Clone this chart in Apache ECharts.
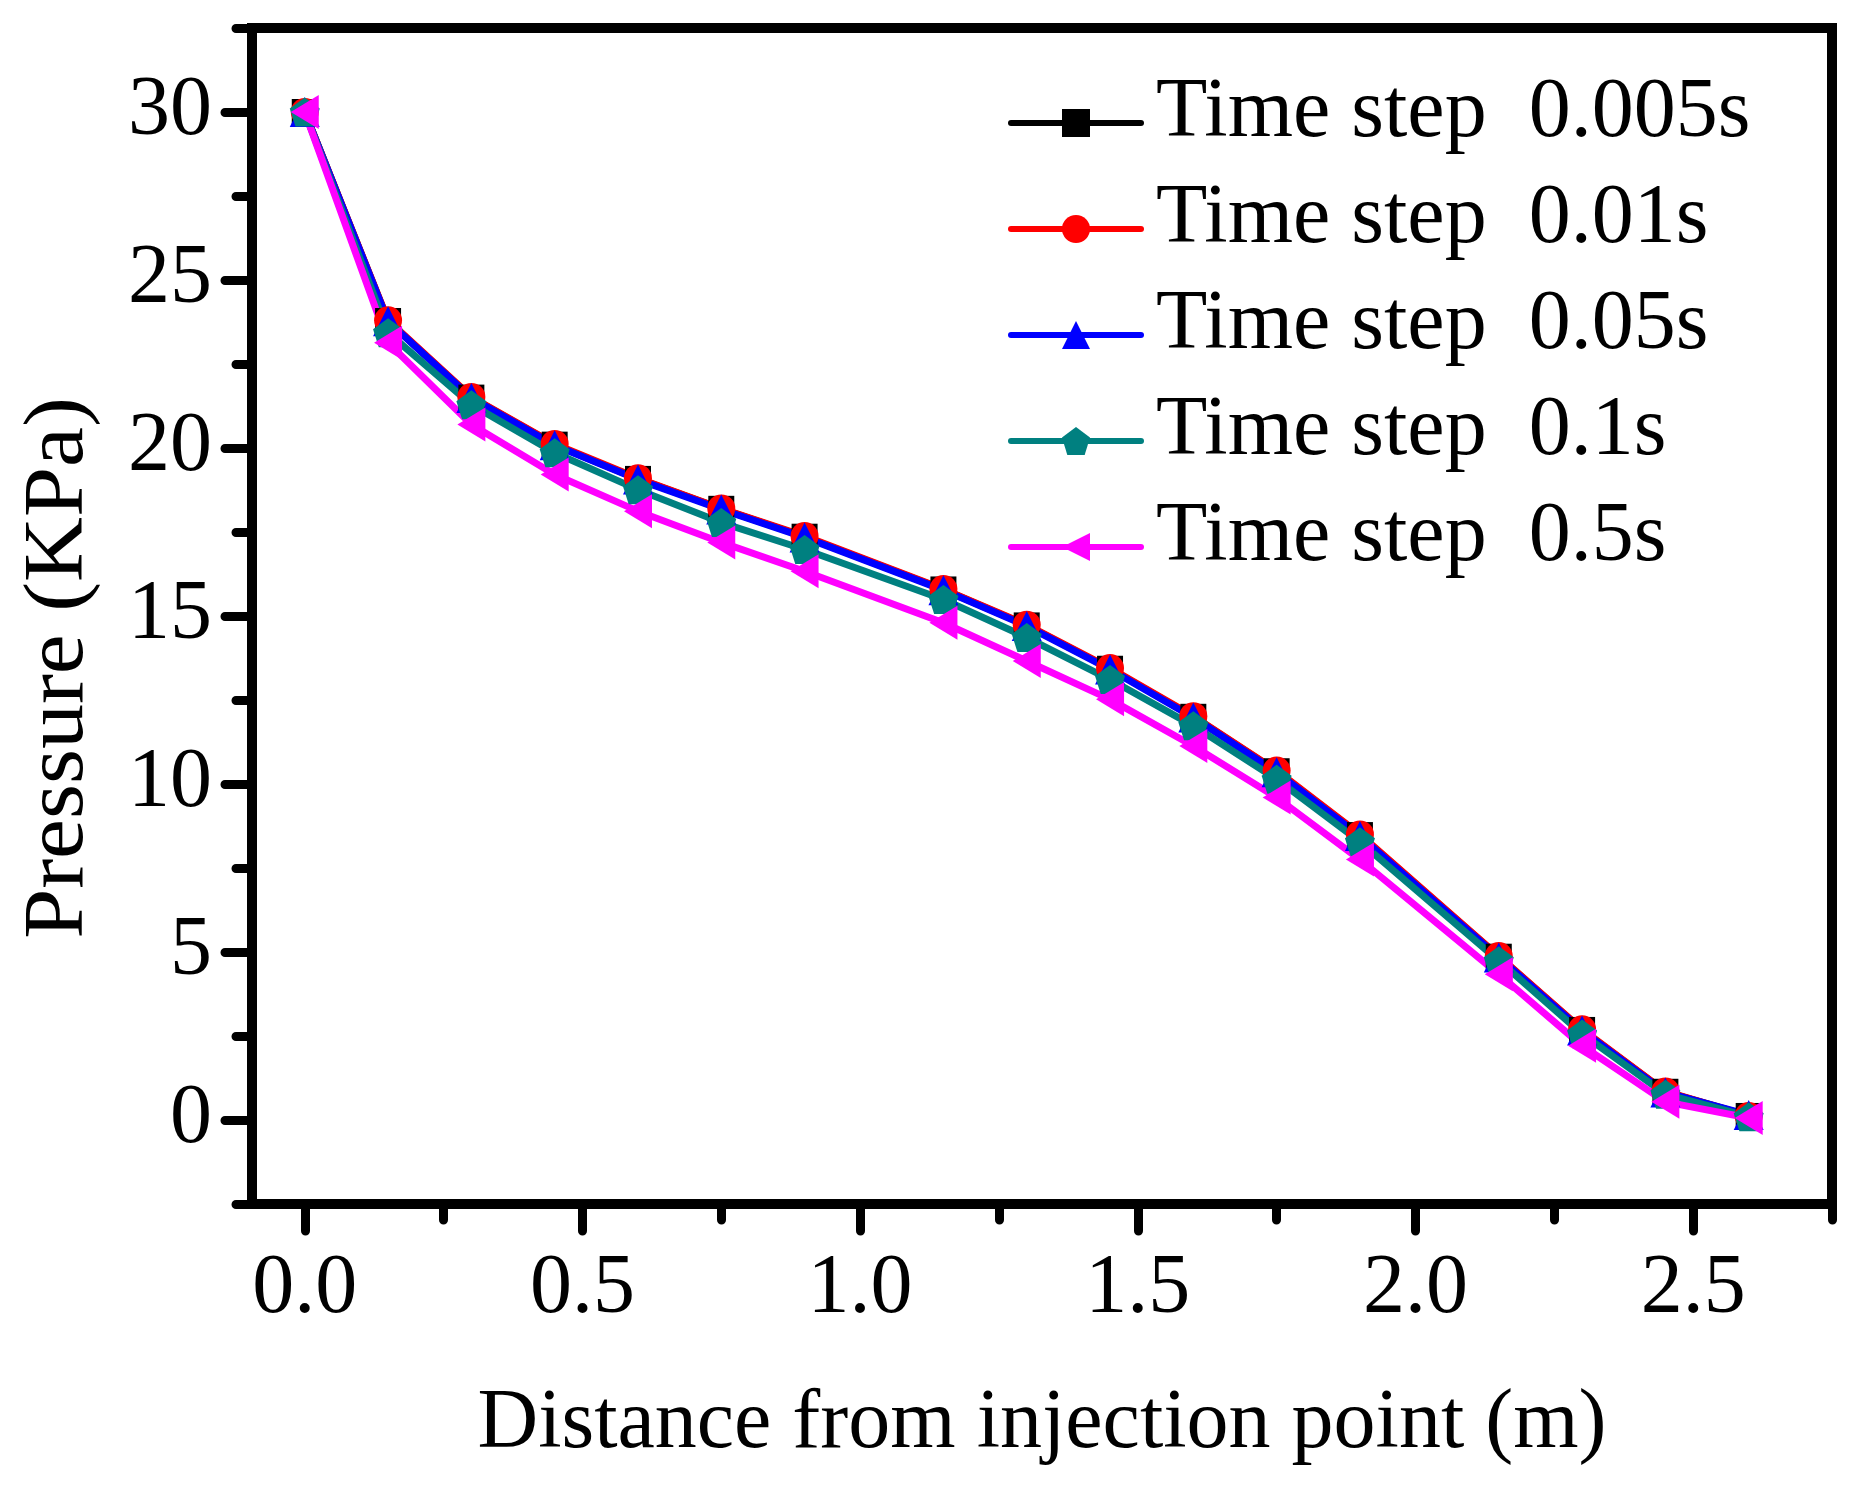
<!DOCTYPE html>
<html>
<head>
<meta charset="utf-8">
<script src="https://cdn.jsdelivr.net/npm/echarts@6/dist/echarts.min.js"></script>
<style>
html,body{margin:0;padding:0;background:#fff;}
#chart{width:1850px;height:1492px;}
</style>
</head>
<body>
<div id="chart"></div>
<script>
const distance = [0, 0.15, 0.3, 0.45, 0.6, 0.75, 0.9, 1.15, 1.3, 1.45, 1.6, 1.75, 1.9, 2.15, 2.3, 2.45, 2.6];
const step0005 = [30, 23.78, 21.50, 20.10, 19.08, 18.19, 17.36, 15.79, 14.72, 13.43, 12.00, 10.38, 8.48, 4.86, 2.68, 0.84, 0.12];
const step001  = [30, 23.80, 21.52, 20.12, 19.10, 18.20, 17.38, 15.80, 14.74, 13.45, 12.02, 10.40, 8.50, 4.88, 2.70, 0.85, 0.12];
const step005  = [30, 23.77, 21.49, 20.08, 19.06, 18.17, 17.34, 15.77, 14.70, 13.41, 11.98, 10.35, 8.45, 4.84, 2.66, 0.82, 0.15];
const step01   = [30, 23.43, 21.29, 19.86, 18.76, 17.78, 16.98, 15.49, 14.36, 13.11, 11.73, 10.14, 8.28, 4.74, 2.56, 0.77, 0.10];
const step05   = [30, 23.13, 20.70, 19.21, 18.12, 17.19, 16.33, 14.80, 13.66, 12.52, 11.13, 9.60, 7.75, 4.34, 2.21, 0.54, 0.06];
const seriesNames = ['Time step  0.005s', 'Time step  0.01s', 'Time step  0.05s', 'Time step  0.1s', 'Time step  0.5s'];
const xMajorTicks = [0, 0.5, 1.0, 1.5, 2.0, 2.5];
const xMinorTicks = [0.25, 0.75, 1.25, 1.75, 2.25, 2.75];
const yMajorTicks = [0, 5, 10, 15, 20, 25, 30];
const yMinorTicks = [-2.5, 2.5, 7.5, 12.5, 17.5, 22.5, 27.5, 32.5];

const FONT = '"Liberation Serif", "Times New Roman", serif';
const pair = arr => distance.map((x, i) => [x, arr[i]]);
const pentagon = 'path://M50,0L100,36L81,95L19,95L0,36Z';
const leftTri = 'path://M0,50L100,0L100,100Z';

const chart = echarts.init(document.getElementById('chart'), null, {renderer: 'canvas'});
const axisLineStyle = {color: '#000', width: 10};
const tickStyle = {color: '#000', width: 9, cap: 'round'};

function mkSeries(name, data, color, symbol, size) {
  return {
    name: name, type: 'line', data: pair(data),
    symbol: symbol, symbolSize: size,
    lineStyle: {color: color, width: 7},
    itemStyle: {color: color},
    emphasis: {disabled: true},
    clip: false
  };
}

chart.setOption({
  animation: false,
  backgroundColor: '#fff',
  grid: {left: 252, right: 18, top: 28, bottom: 288, show: true, borderColor: '#000', borderWidth: 10, backgroundColor: 'transparent'},
  legend: {
    left: 1008, top: 72, orient: 'vertical', padding: 0, itemGap: 22,
    itemWidth: 130, itemHeight: 35,
    lineStyle: {width: 6, cap: 'round'},
    formatter: name => '{t|' + name + '}',
    textStyle: {fontFamily: FONT, fontSize: 84, color: '#000',
      rich: {t: {fontFamily: FONT, fontSize: 84, color: '#000', padding: [0, 0, 18, 10]}}},
    data: seriesNames
  },
  xAxis: [{
    type: 'value', min: -0.095, max: 2.75, position: 'bottom',
    name: 'Distance from injection point (m)', nameLocation: 'middle', nameGap: 179,
    nameTextStyle: {fontFamily: FONT, fontSize: 84, color: '#000'},
    axisLine: {show: true, onZero: false, lineStyle: axisLineStyle},
    axisTick: {show: true, length: 27, lineStyle: tickStyle, customValues: xMajorTicks},
    axisLabel: {show: true, margin: 44, fontFamily: FONT, fontSize: 84, color: '#000', customValues: xMajorTicks,
      formatter: v => Number(v).toFixed(1)},
    splitLine: {show: false}
  }, {
    type: 'value', min: -0.095, max: 2.75, position: 'bottom',
    axisLine: {show: false, onZero: false},
    axisTick: {show: true, length: 16, lineStyle: tickStyle, customValues: xMinorTicks},
    axisLabel: {show: false},
    splitLine: {show: false}
  }],
  yAxis: [{
    type: 'value', min: -2.5, max: 32.5, position: 'left',
    axisLine: {show: true, onZero: false, lineStyle: axisLineStyle},
    axisTick: {show: true, length: 27, lineStyle: tickStyle, customValues: yMajorTicks},
    axisLabel: {show: true, margin: 40, fontFamily: FONT, fontSize: 84, color: '#000', customValues: yMajorTicks},
    splitLine: {show: false}
  }, {
    type: 'value', min: -2.5, max: 32.5, position: 'left',
    axisLine: {show: false, onZero: false},
    axisTick: {show: true, length: 16, lineStyle: tickStyle, customValues: yMinorTicks},
    axisLabel: {show: false},
    splitLine: {show: false}
  }],
  graphic: [{
    type: 'text', x: 60, y: 668, rotation: Math.PI / 2, scaleX: 1.07,
    style: {text: 'Pressure (KPa)', font: '84px "Liberation Serif"', fill: '#000', align: 'center', verticalAlign: 'middle'}
  }],
  series: [
    mkSeries(seriesNames[0], step0005, '#000000', 'rect', 26),
    mkSeries(seriesNames[1], step001, '#FF0000', 'circle', 28),
    mkSeries(seriesNames[2], step005, '#0000FF', 'triangle', 30),
    mkSeries(seriesNames[3], step01, '#008080', pentagon, [30, 29]),
    mkSeries(seriesNames[4], step05, '#FF00FF', leftTri, [28, 34])
  ]
});
</script>
</body>
</html>
